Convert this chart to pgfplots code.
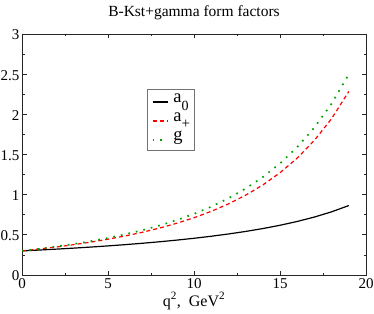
\documentclass[border=0pt]{standalone}
\usepackage{pgfplots}
\pgfplotsset{compat=1.18}
\usepackage{fontspec}
\setmainfont{Liberation Serif}
\definecolor{ggreen}{RGB}{0,160,0}
\begin{document}
\begin{tikzpicture}
\begin{axis}[
  scale only axis,
  width=344pt, height=241pt,
  at={(0,0)}, anchor=south west,
  xmin=0, xmax=20, ymin=0, ymax=3,
  xtick={0,5,...,20}, ytick={0,0.5,...,3},
  minor x tick num=1, minor y tick num=1,
  tick align=inside,
  major tick length=4.5pt, minor tick length=2.5pt,
  axis line style={black!85, line width=0.9pt},
  every tick/.style={black!85, line width=0.7pt},
  tick label style={font=\fontsize{15}{16}\selectfont},
  xticklabel style={anchor=base, yshift=-13pt},
  yticklabel style={anchor=east, xshift=1pt, yshift=-1pt},
  /pgf/number format/assume math mode=true,
  title={B-Kst+gamma form factors},
  title style={font=\fontsize{15.5}{16}\selectfont, at={(0.5,1)}, anchor=base, yshift=11pt},
  xlabel={q\textsuperscript{2},\ \ GeV\textsuperscript{2}},
  xlabel style={font=\fontsize{16}{17}\selectfont, at={(axis description cs:0.5,0)}, anchor=base, yshift=-31pt},
  legend style={at={(0.3642,0.7718)}, anchor=north west, draw=black!55,
    font=\fontsize{18.5}{19}\selectfont, inner xsep=4.4pt, inner ysep=2pt, outer sep=0pt,
    row sep=0pt, column sep=5pt,
    nodes={inner sep=0pt, text height=12pt, text depth=7pt}},
  legend cell align=left,
  legend image code/.code={\draw[#1] (0pt,-1.5pt) -- (15pt,-1.5pt);},
]
\addplot[black, line width=1.2pt] coordinates {
(0,0.3000) (1,0.3107) (2,0.3221) (3,0.3345) (4,0.3478) (5,0.3622) (6,0.3779) (7,0.3950)
(8,0.4137) (9,0.4343) (10,0.4571) (11,0.4823) (12,0.5105) (13,0.5422) (14,0.5781)
(15,0.6191) (16,0.6664) (17,0.7215) (18,0.7865) (19,0.8644)};
\addlegendentry{a\raisebox{-7.4pt}{\fontsize{14}{14}\selectfont 0}}
\addplot[red, line width=1.2pt, dash pattern=on 4pt off 3pt] coordinates {
(0,0.3000) (1,0.3231) (2,0.3488) (3,0.3775) (4,0.4096) (5,0.4456) (6,0.4861) (7,0.5321)
(8,0.5845) (9,0.6442) (10,0.7129) (11,0.7924) (12,0.8850) (13,0.9931) (14,1.1207)
(15,1.2728) (16,1.4549) (17,1.6760) (18,1.9468) (19,2.2848)};
\addlegendentry{a\raisebox{-6.5pt}{\fontsize{15}{15}\selectfont +}}
\addplot[ggreen, line width=1.7pt, dash pattern=on 1.7pt off 6pt] coordinates {
(0,0.3000) (1,0.3253) (2,0.3536) (3,0.3853) (4,0.4208) (5,0.4609) (6,0.5062) (7,0.5576)
(8,0.6162) (9,0.6834) (10,0.7607) (11,0.8501) (12,0.9541) (13,1.0758) (14,1.2190)
(15,1.3889) (16,1.5919) (17,1.8363) (18,2.1336) (19,2.4986)};
\addlegendentry{g}
\end{axis}
\pgfresetboundingbox
\path (-22pt,-38pt) rectangle (352pt,275pt);
\end{tikzpicture}
\end{document}
